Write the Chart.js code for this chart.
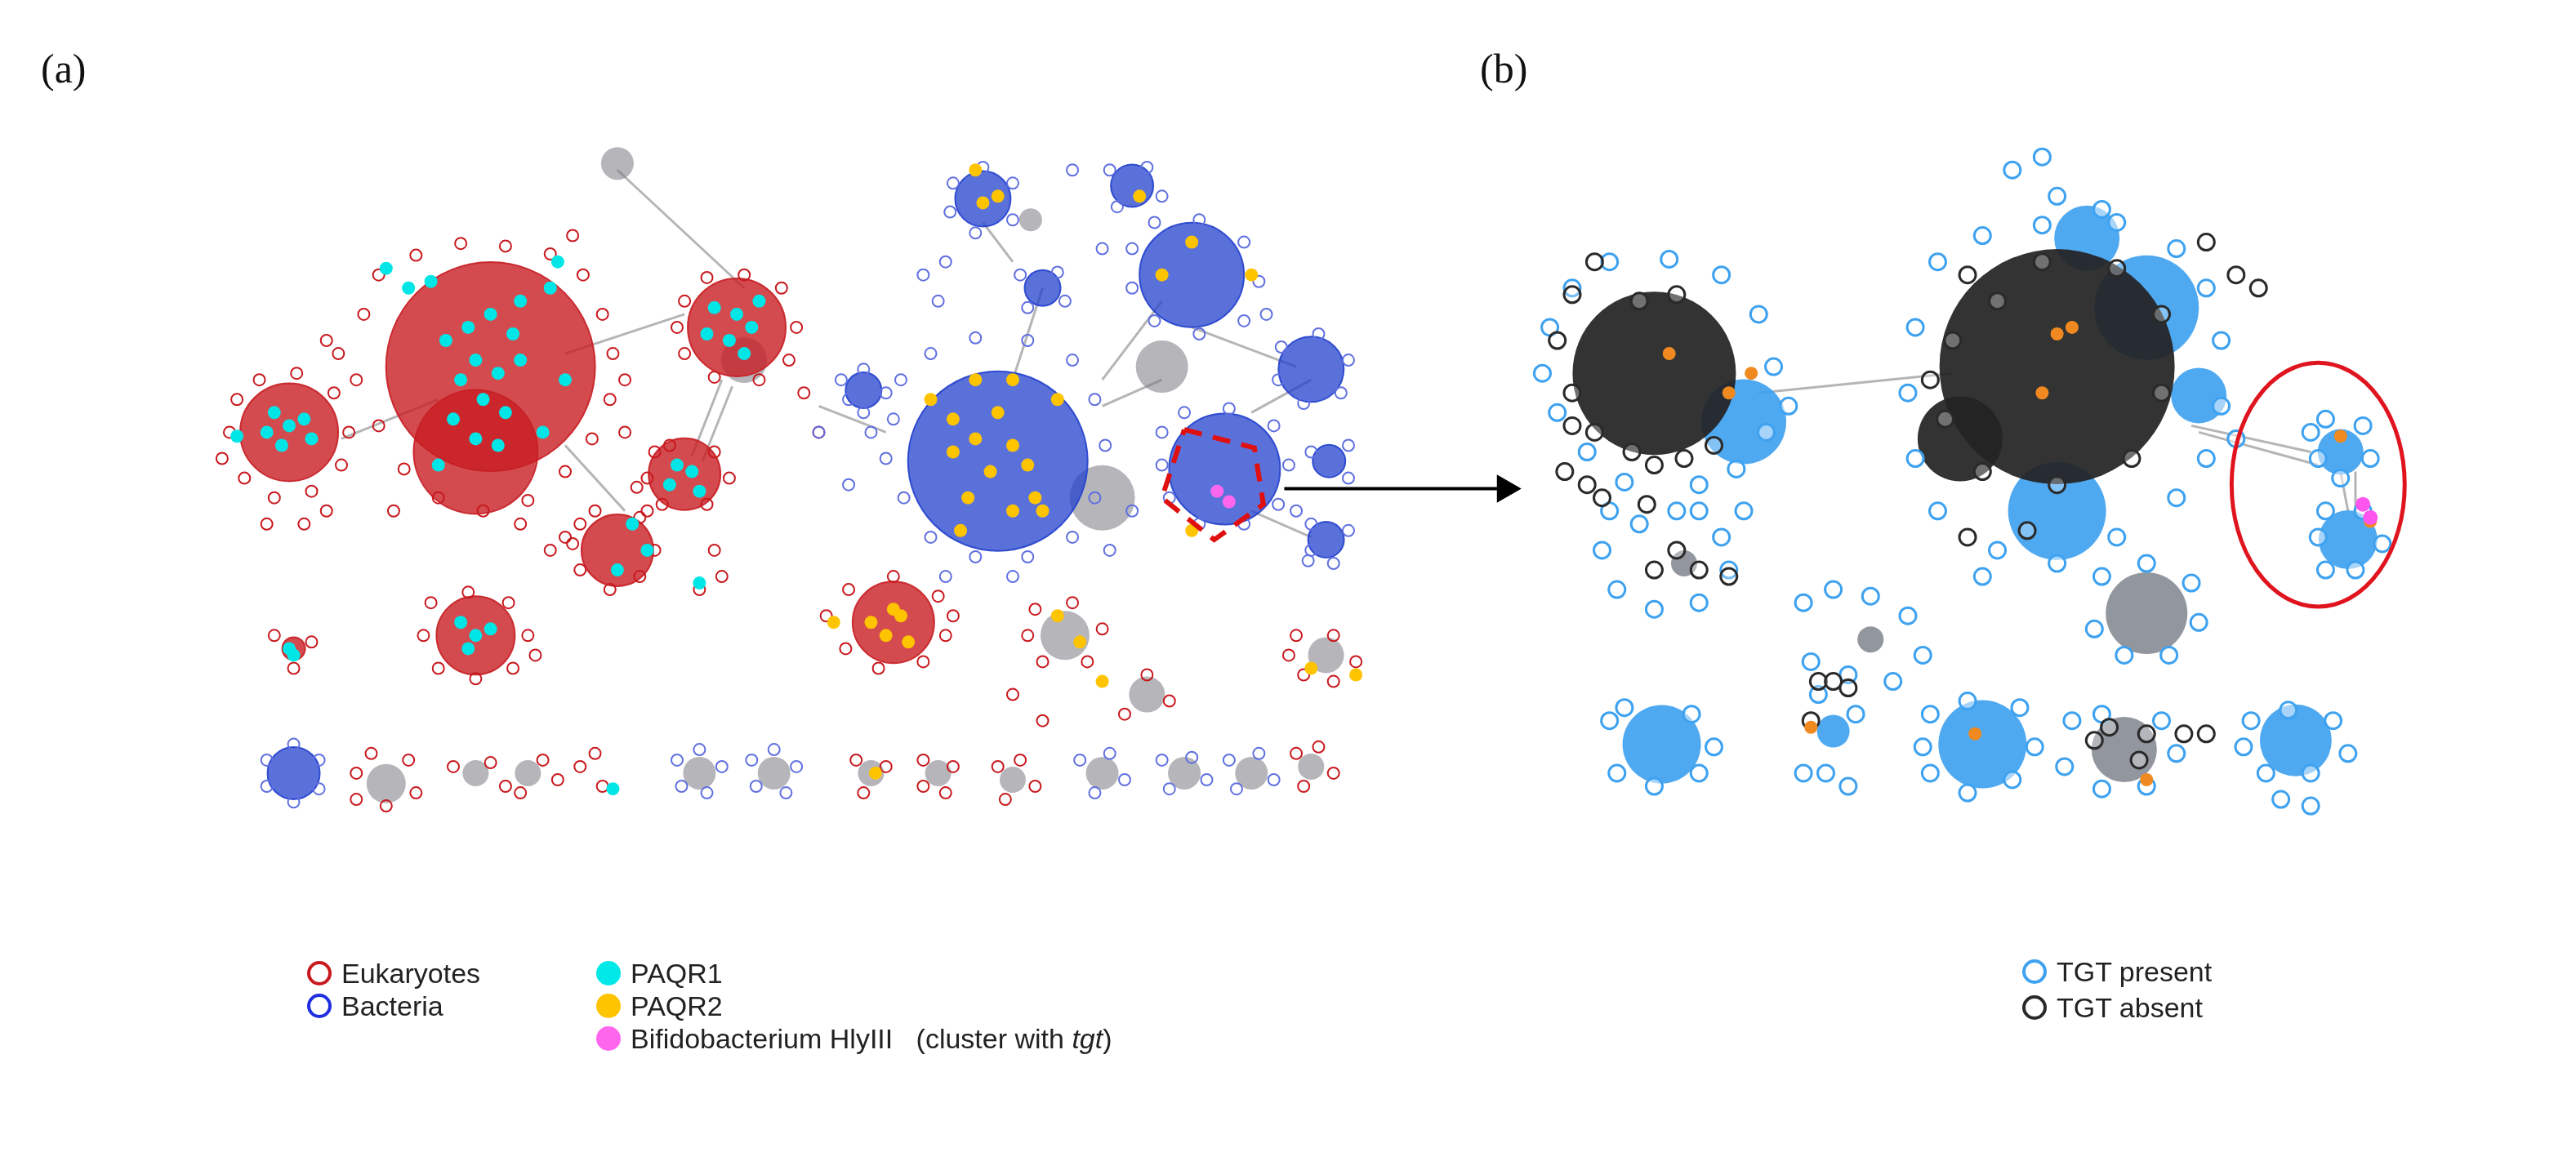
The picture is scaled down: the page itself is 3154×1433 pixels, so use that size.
<!DOCTYPE html>
<html><head><meta charset="utf-8">
<script src="https://cdn.jsdelivr.net/npm/chart.js@4.4.1/dist/chart.umd.min.js"></script>
<style>
html,body{margin:0;padding:0;background:#fff;width:3154px;height:1433px;overflow:hidden}
#wrap{position:relative;width:3154px;height:1433px}
.t{position:absolute;font-family:"Liberation Sans","Open Sans",sans-serif;font-size:34px;color:#222;white-space:nowrap;line-height:40px}
.p{position:absolute;font-family:"Liberation Serif",serif;font-size:50px;color:#111}
.c{display:inline-block;width:30px;height:30px;border-radius:50%;box-sizing:border-box;vertical-align:middle;margin-right:12px;position:relative;top:-3px}
</style></head><body>
<div id="wrap"><canvas id="c" width="3154" height="1433"></canvas>
<div class="p" style="left:50px;top:55px">(a)</div>
<div class="p" style="left:1812px;top:55px">(b)</div>
<div class="t" style="left:376px;top:1172px"><span class="c" style="border:4px solid #c8191e"></span>Eukaryotes</div>
<div class="t" style="left:376px;top:1212px"><span class="c" style="border:4px solid #1f2ee0"></span>Bacteria</div>
<div class="t" style="left:730px;top:1172px"><span class="c" style="background:#00e8e8"></span>PAQR1</div>
<div class="t" style="left:730px;top:1212px"><span class="c" style="background:#ffc400"></span>PAQR2</div>
<div class="t" style="left:730px;top:1252px"><span class="c" style="background:#ff66ee"></span>Bifidobacterium HlyIII&nbsp;&nbsp;&nbsp;(cluster with <i>tgt</i>)</div>
<div class="t" style="left:2476px;top:1170px"><span class="c" style="border:4px solid #3ea2f0"></span>TGT present</div>
<div class="t" style="left:2476px;top:1214px"><span class="c" style="border:4px solid #2a2a2a"></span>TGT absent</div>
</div>
<script>
// cluster cores [x, y, radius]
const eukCores=[[115,240,30],[250,190,64],[240,255,38],[415,160,30],[380,272,22],[335,330,22],[240,395,24],[520,385,25],[118,405,7]];
const bacCores=[[590,262,55],[742,268,34],[720,120,32],[580,62,17],[680,52,13],[620,130,11],[800,192,20],[500,208,11],[118,500,16],[812,262,10],[810,322,11]];
const greyCores=[[335,35,10],[420,185,14],[635,395,15],[690,440,11],[810,410,11],[180,508,12],[240,500,8],[275,500,8],[390,500,10],[440,500,10],[660,500,10],[715,500,10],[760,500,10],[600,505,8],[550,500,8],[505,500,8],[800,495,8],[612,78,7],[700,190,16],[660,290,20]];
const absentCores=[[1030,195,50],[1300,190,72],[1235,245,26]];
const presentCores=[[1090,232,26],[1300,300,30],[1360,145,32],[1320,92,20],[1490,255,14],[1495,322,18],[1035,478,24],[1250,478,27],[1460,475,22],[1150,468,10],[1395,212,17]];
const bGreyCores=[[1360,378,25],[1345,482,20],[1175,398,8],[1050,340,8]];
// nodes
const eukNodes=[[75,240],[80,215],[95,200],[120,195],[145,210],[155,240],[150,265],[130,285],[105,290],[85,275],[100,310],[125,310],[140,300],[70,260],
[165,150],[175,120],[200,105],[230,96],[260,98],[290,104],[312,120],[325,150],[332,180],[330,215],[318,245],[300,270],[275,292],[245,300],[215,290],[192,268],[175,235],[160,200],[148,180],[340,240],[348,282],[355,300],[140,170],[305,90],[185,300],[270,310],[340,200],
[380,140],[395,122],[420,120],[445,130],[455,160],[450,185],[430,200],[400,198],[380,180],[375,160],[460,210],[470,240],
[360,255],[370,250],[400,255],[410,275],[395,295],[365,295],[355,275],
[310,310],[320,300],[350,305],[360,330],[350,350],[330,360],[310,345],[305,325],[400,330],[405,350],[390,360],
[300,320],[290,330],
[105,395],[130,400],[118,420],
[210,370],[235,362],[262,370],[275,395],[265,420],[240,428],[215,420],[205,395],[280,410],
[490,360],[520,350],[550,365],[555,395],[540,415],[510,420],[488,405],[475,380],[560,380],
[615,375],[640,370],[660,390],[650,415],[620,415],[610,395],[600,440],[620,460],[690,425],[705,445],[675,455],
[790,395],[815,395],[830,415],[815,430],[795,425],[785,410],
[160,500],[170,485],[195,490],[200,515],[180,525],[160,520],[225,495],[250,492],[260,510],[285,490],[295,505],[270,515],
[310,495],[320,485],[325,510],[495,490],[515,495],[500,515],[540,490],[560,495],[555,515],[540,510],[590,495],[605,490],[615,510],[595,520],[790,485],[805,480],[815,500],[795,510]];
const bacNodes=[[520,230],[525,200],[545,180],[575,168],[610,170],[640,185],[655,215],[662,250],[655,290],[640,320],[610,335],[575,335],[545,320],[527,290],[515,260],[505,240],[555,350],[600,350],[665,330],[680,300],
[700,240],[715,225],[745,222],[775,235],[785,265],[778,295],[755,310],[725,310],[705,290],[700,265],[790,300],[800,330],
[680,100],[695,80],[725,78],[755,95],[765,125],[755,155],[725,165],[695,155],[680,130],[770,150],
[560,50],[580,38],[600,50],[600,78],[575,88],[558,72],
[665,40],[690,38],[700,60],[670,68],
[605,120],[630,118],[635,140],[610,145],
[780,175],[805,165],[825,185],[820,210],[795,218],[778,200],
[485,200],[500,192],[515,210],[500,225],[490,215],[540,120],[555,110],[550,140],
[100,490],[118,478],[135,490],[135,512],[118,522],[100,510],
[375,490],[390,482],[405,495],[395,515],[378,510],[425,490],[440,482],[455,495],[448,515],[428,510],
[645,490],[665,485],[675,505],[655,515],[700,490],[720,488],[730,505],[705,512],[745,490],[765,485],[775,505],[750,512],
[800,255],[825,250],[825,275],[800,310],[825,315],[815,340],[798,338],[640,40],[660,100],[470,240],[490,280]];
const paqr1=[[220,170],[235,160],[250,150],[265,165],[240,185],[255,195],[270,185],[230,200],[245,215],[260,225],[225,230],[240,245],[255,250],[270,140],[290,130],[195,130],[210,125],[285,240],[300,200],[215,265],[180,115],[295,110],
[105,225],[115,235],[125,230],[110,250],[130,245],[100,240],[80,243],[400,145],[415,150],[425,160],[410,170],[395,165],[430,140],[420,180],[375,265],[385,270],[370,280],[390,285],[345,310],[355,330],[335,345],[390,355],[115,405],[118,410],[230,385],[240,395],[235,405],[250,390],[332,512]];
const paqr2=[[560,230],[575,245],[590,225],[600,250],[585,270],[610,265],[570,290],[620,300],[600,300],[615,290],[560,255],[630,215],[575,200],[600,200],[565,315],[575,40],[580,65],[590,60],[685,60],[700,120],[720,95],[760,120],[545,215],[505,385],[515,395],[525,380],[530,400],[520,375],[480,385],[630,380],[645,400],[660,430],[800,420],[830,425],[508,500],[720,315]];
const bifido=[[737,285],[745,293]];
const presentNodes=[[960,160],[975,130],[1000,110],[1040,108],[1075,120],[1100,150],[1110,190],[1105,240],[1085,268],[1060,280],[1010,278],[985,255],[965,225],[955,195],[1120,220],[1060,300],
[1220,110],[1250,90],[1290,82],[1340,80],[1380,100],[1400,130],[1410,170],[1410,220],[1400,260],[1380,290],[1340,320],[1300,340],[1260,330],[1220,300],[1205,260],[1200,210],[1205,160],[1270,40],[1290,30],[1300,60],[1420,245],[1330,70],[1250,350],
[1470,240],[1480,230],[1505,235],[1510,260],[1490,275],[1475,260],[1480,300],[1505,300],[1518,325],[1500,345],[1480,345],[1475,320],
[1000,300],[1020,310],[1045,300],[1075,320],[1080,345],[1060,370],[1030,375],[1005,360],[995,330],[1090,300],
[1130,370],[1150,360],[1175,365],[1200,380],[1210,410],[1190,430],[1160,425],[1135,415],[1140,440],[1145,500],[1160,510],[1130,500],[1165,455],
[1330,350],[1360,340],[1390,355],[1395,385],[1375,410],[1345,410],[1325,390],
[1000,460],[1010,450],[1055,455],[1070,480],[1060,500],[1030,510],[1005,500],
[1215,455],[1240,445],[1275,450],[1285,480],[1270,505],[1240,515],[1215,500],[1210,480],
[1310,460],[1330,455],[1370,460],[1380,485],[1360,510],[1330,512],[1305,495],
[1430,460],[1455,452],[1485,460],[1495,485],[1470,500],[1440,500],[1425,480],[1450,520],[1470,525]];
const absentNodes=[[990,110],[975,135],[965,170],[975,210],[990,240],[1015,255],[1050,260],[1045,135],[1020,140],[995,290],[1025,295],[970,270],[975,235],[985,280],[1030,265],[1070,250],
[1240,120],[1290,110],[1340,115],[1370,150],[1370,210],[1350,260],[1300,280],[1250,270],[1225,230],[1230,170],[1260,140],[1400,95],[1420,120],[1435,130],[1215,200],[1240,320],[1280,315],
[1045,330],[1060,345],[1080,350],[1030,345],[1140,430],[1150,430],[1160,435],[1135,460],[1335,465],[1360,470],[1355,490],[1385,470],[1400,470],[1325,475]];
const orangeNodes=[[1040,180],[1080,210],[1095,195],[1300,165],[1290,210],[1310,160],[1490,243],[1510,308],[1135,465],[1245,470],[1360,505]];
const magentaNodes=[[1505,295],[1510,305]];
const edges=[[150,245,215,215],[300,180,380,150],[420,130,335,40],[405,200,385,258],[412,205,392,262],[300,250,340,300],[620,130,600,200],[700,200,660,220],[760,300,800,320],[1100,210,1230,195],[1390,235,1470,255],[1395,240,1475,265],[1490,270,1495,300],[1500,270,1500,305],[600,110,580,80],[700,140,660,200],[470,220,515,240],[720,160,790,190],[760,225,800,200]];
const diamond=[[715,238],[762,252],[768,295],[735,322],[700,290],[715,238]];
const arrow=[[782,283],[930,283]];
const ellipseB={x:1475,y:280,rx:58,ry:93};

const P=a=>a.map(p=>({x:p[0],y:p[1]}));
const B=a=>a.map(p=>({x:p[0],y:p[1],r:p[2]*2}));
const ds=[];
edges.forEach(e=>ds.push({type:'line',data:[{x:e[0],y:e[1]},{x:e[2],y:e[3]}],borderColor:'rgba(150,150,150,0.7)',borderWidth:3,pointRadius:0}));
ds.push({type:'bubble',data:B(greyCores),backgroundColor:'rgba(120,120,130,0.55)',borderWidth:0});
ds.push({type:'bubble',data:B(eukCores),backgroundColor:'rgba(200,30,35,0.8)',borderColor:'rgba(200,30,35,0.9)',borderWidth:2});
ds.push({type:'bubble',data:B(bacCores),backgroundColor:'rgba(35,65,205,0.75)',borderColor:'rgba(35,65,205,0.9)',borderWidth:2});
ds.push({type:'bubble',data:B(bGreyCores),backgroundColor:'rgba(110,115,125,0.75)',borderWidth:0});
ds.push({type:'bubble',data:B(presentCores),backgroundColor:'rgba(60,160,240,0.9)',borderWidth:0});
ds.push({type:'bubble',data:B(absentCores),backgroundColor:'rgba(35,35,35,0.93)',borderWidth:0});
ds.push({type:'scatter',data:P(eukNodes),pointRadius:7,borderColor:'#c8191e',borderWidth:2,backgroundColor:'rgba(0,0,0,0)'});
ds.push({type:'scatter',data:P(bacNodes),pointRadius:7,borderColor:'#6070e0',borderWidth:2,backgroundColor:'rgba(0,0,0,0)'});
ds.push({type:'scatter',data:P(presentNodes),pointRadius:10,borderColor:'#3ea2f0',borderWidth:3,backgroundColor:'rgba(255,255,255,0.5)'});
ds.push({type:'scatter',data:P(absentNodes),pointRadius:10,borderColor:'#2a2a2a',borderWidth:3,backgroundColor:'rgba(255,255,255,0.3)'});
ds.push({type:'scatter',data:P(paqr1),pointRadius:8,backgroundColor:'#00e6e6',borderWidth:0});
ds.push({type:'scatter',data:P(paqr2),pointRadius:8,backgroundColor:'#ffc400',borderWidth:0});
ds.push({type:'scatter',data:P(bifido),pointRadius:8,backgroundColor:'#ff66ee',borderWidth:0});
ds.push({type:'scatter',data:P(orangeNodes),pointRadius:8,backgroundColor:'#f08a20',borderWidth:0});
ds.push({type:'scatter',data:P(magentaNodes),pointRadius:9,backgroundColor:'#ff55ee',borderWidth:0});
ds.push({type:'line',data:P(diamond),borderColor:'#e01010',borderWidth:6,borderDash:[22,14],pointRadius:0});
ds.push({type:'line',data:P(arrow),borderColor:'#000',borderWidth:4,pointRadius:[0,16],pointStyle:'triangle',pointRotation:90,pointBackgroundColor:'#000',pointBorderColor:'#000'});
ds.forEach((d,i)=>{d.order=ds.length-i;});
const ell={id:'ell',afterDatasetsDraw(ch){const c=ch.ctx,x=ch.scales.x,y=ch.scales.y;
 const cx=x.getPixelForValue(ellipseB.x),cy=y.getPixelForValue(ellipseB.y);
 const rx=x.getPixelForValue(ellipseB.x+ellipseB.rx)-cx,ry=y.getPixelForValue(ellipseB.y+ellipseB.ry)-cy;
 c.save();c.strokeStyle='#e0141e';c.lineWidth=5;c.beginPath();c.ellipse(cx,cy,Math.abs(rx),Math.abs(ry),0,0,Math.PI*2);c.stroke();c.restore();}};
new Chart(document.getElementById('c'),{data:{datasets:ds},plugins:[ell],
options:{responsive:false,animation:false,events:[],layout:{padding:0},
plugins:{legend:{display:false},tooltip:{enabled:false}},
scales:{x:{type:'linear',min:0,max:1569,display:false},y:{type:'linear',min:0,max:713,reverse:true,display:false}}}});
</script></body></html>
